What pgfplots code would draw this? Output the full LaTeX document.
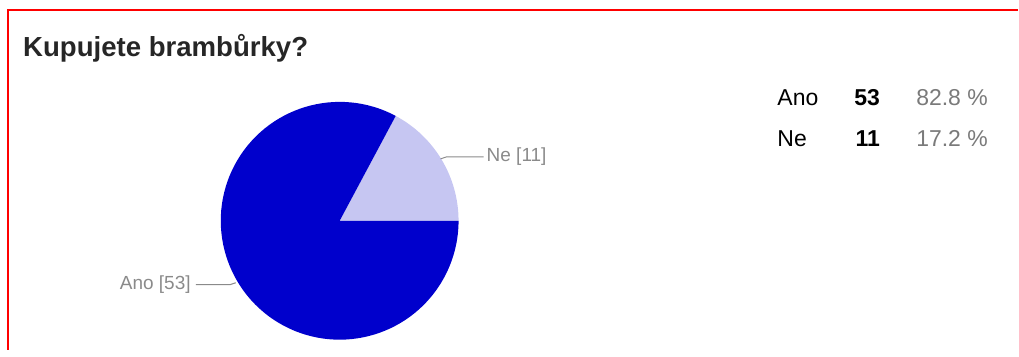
\documentclass[border=0pt]{standalone}
\usepackage{pgfplots}
\usepackage{pgfplotstable}
\usepackage{fontspec}
\setmainfont{Liberation Sans}
\pgfplotsset{compat=1.18}
\definecolor{anoblue}{HTML}{0000CC}
\definecolor{nelight}{HTML}{C6C6F2}
\definecolor{lblgray}{HTML}{8A8A8A}
\definecolor{pctgray}{HTML}{7A7A7A}
\pgfplotstableread{
Label Count
Ano 53
Ne 11
}\votes
\pgfplotstablegetelem{0}{Count}\of\votes \let\ano\pgfplotsretval
\pgfplotstablegetelem{1}{Count}\of\votes \let\ne\pgfplotsretval
\pgfmathsetmacro{\total}{\ano+\ne}
\pgfmathsetmacro{\neangle}{360*\ne/\total}
\begin{document}
\begin{tikzpicture}
\begin{axis}[
  scale only axis, width=1019bp, height=350bp,
  xmin=0, xmax=1019, ymin=0, ymax=350, y dir=reverse,
  hide axis, clip=false,
]
\path (axis cs:0,0) rectangle (axis cs:1019,350);
% border
\draw[red, line width=2bp] (axis cs:8,350) -- (axis cs:8,10) -- (axis cs:1019,10);
% title
\node[anchor=base west, inner sep=0pt, text=black!85] at (axis cs:23,57)
  {\fontsize{27.6bp}{30bp}\selectfont\bfseries Kupujete bramb\r{u}rky?};
% pie
\fill[nelight] (axis cs:340,221) -- ++(0:119bp) arc[start angle=0, end angle=\neangle, radius=119bp] -- cycle;
\fill[anoblue] (axis cs:340,221) -- ++(\neangle:119bp) arc[start angle=\neangle, end angle=360, radius=119bp] -- cycle;
% connectors
\draw[lblgray, line width=1bp] (axis cs:441,159) -- (axis cs:447,157) -- (axis cs:484,157);
\draw[lblgray, line width=1bp] (axis cs:236,283) -- (axis cs:230,285) -- (axis cs:196,285);
\node[anchor=west, inner sep=0pt, text=lblgray] at (axis cs:487,157)
  {\fontsize{19bp}{22bp}\selectfont Ne [\ne]};
\node[anchor=east, inner sep=0pt, text=lblgray] at (axis cs:191,285)
  {\fontsize{19bp}{22bp}\selectfont Ano [\ano]};
% table
\node[anchor=base west, inner sep=0pt] at (axis cs:778,106) {\fontsize{23bp}{26bp}\selectfont Ano};
\node[anchor=base west, inner sep=0pt] at (axis cs:778,147) {\fontsize{23bp}{26bp}\selectfont Ne};
\node[anchor=base east, inner sep=0pt] at (axis cs:881,106) {\fontsize{23bp}{26bp}\selectfont\bfseries \ano};
\node[anchor=base east, inner sep=0pt] at (axis cs:881,147) {\fontsize{23bp}{26bp}\selectfont\bfseries \ne};
\node[anchor=base east, inner sep=0pt, text=pctgray] at (axis cs:989,106) {\fontsize{23bp}{26bp}\selectfont 82.8 \%};
\node[anchor=base east, inner sep=0pt, text=pctgray] at (axis cs:989,147) {\fontsize{23bp}{26bp}\selectfont 17.2 \%};
\end{axis}
\end{tikzpicture}
\end{document}
